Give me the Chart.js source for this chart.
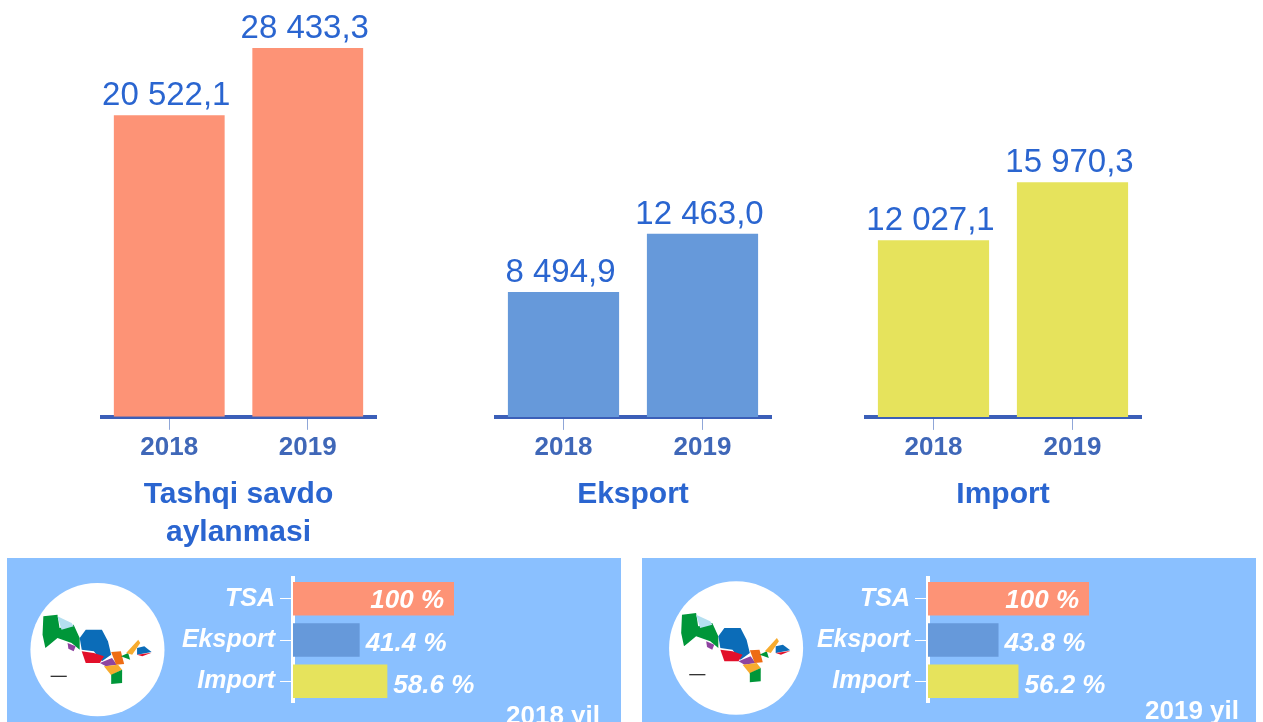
<!DOCTYPE html>
<html>
<head>
<meta charset="utf-8">
<script src="https://cdn.jsdelivr.net/npm/chart.js@4"></script>
<style>
  html, body { margin: 0; padding: 0; background: #fff; width: 1263px; height: 722px; overflow: hidden; }
  canvas { position: absolute; display: block; }
  .panel { position: absolute; top: 558px; width: 614px; height: 164px; background: #8ac0ff; overflow: hidden; }
  .panel canvas { left: 0; top: 0; }
  .panel svg { position: absolute; left: 0; top: 0; width: 630px; height: 172px; }
  .year { position: absolute; color: #fff; font: bold 26px "Liberation Sans", Arial, sans-serif; white-space: nowrap; }
</style>
</head>
<body>
<canvas id="tsa" width="277" height="552" style="left:100px;top:0"></canvas>
<canvas id="eks" width="278" height="514" style="left:494px;top:0"></canvas>
<canvas id="imp" width="278" height="514" style="left:864px;top:0"></canvas>

<div class="panel" style="left:7px">
  <svg viewBox="0 0 1560 516" preserveAspectRatio="none">
    <defs>
      <g id="map">
        <ellipse cx="224" cy="275" rx="166" ry="200" fill="#fff"/>
        <polygon fill="#009639" points="90,175 125,170 130,210 165,200 180,240 180,275 160,255 125,240 105,260 95,270 88,230"/>
        <polygon fill="#b5dff0" points="125,175 160,195 165,205 135,215"/>
        <polygon fill="#0b6cb8" points="180,240 195,215 235,215 250,250 258,290 235,310 215,280 185,275"/>
        <polygon fill="#8e44a0" points="150,255 170,265 165,280 152,272"/>
        <polygon fill="#e2102a" points="185,280 215,285 240,295 230,315 195,315"/>
        <polygon fill="#8e44a0" points="230,315 260,300 272,320 245,325"/>
        <polygon fill="#ee6c14" points="258,282 282,280 290,318 270,320"/>
        <polygon fill="#009639" points="282,295 300,285 305,305"/>
        <polygon fill="#f7ab2e" points="295,285 325,245 330,255 310,290"/>
        <polygon fill="#0b6cb8" points="322,270 340,265 358,282 322,290"/>
        <polygon fill="#e2102a" points="322,290 358,284 335,295"/>
        <polygon fill="#f7ab2e" points="240,325 275,320 285,335 258,352"/>
        <polygon fill="#009639" points="258,350 285,335 285,375 258,378"/>
        <rect x="108" y="353" width="40" height="4" fill="#333"/>
      </g>
    </defs>
    <use href="#map"/>
  </svg>
  <canvas id="share18" width="614" height="164"></canvas>
  <span class="year" style="left:499px;top:142px">2018 yil</span>
</div>

<div class="panel" style="left:642px">
  <svg viewBox="0 0 1560 516" preserveAspectRatio="none">
    <use href="#map" x="9" y="-5"/>
  </svg>
  <canvas id="share19" width="614" height="164"></canvas>
  <span class="year" style="left:503px;top:137px">2019 yil</span>
</div>

<script>
const years = ['2018', '2019'];
const tradeTurnover = [20522.1, 28433.3];
const exports_ = [8494.9, 12463.0];
const imports_ = [12027.1, 15970.3];

const shareLabels = ['TSA', 'Eksport', 'Import'];
const share2018 = [100, 41.4, 58.6];
const share2019 = [100, 43.8, 56.2];

const CORAL = '#fd9376';
const BLUE = '#6699da';
const YELLOW = '#e6e35c';
const TEXT_BLUE = '#2a65d0';
const FONT = '"Liberation Sans", Arial, sans-serif';

// the reference has one scale for all three groups, the tallest bar just runs off the top of it
const SCALE_MAX = 25100;

function formatValue(v) {
  const parts = v.toFixed(1).split('.');
  return parts[0].replace(/\B(?=(\d{3})+$)/g, ' ') + ',' + parts[1];
}

const valueLabels = {
  id: 'valueLabels',
  afterDatasetsDraw(chart) {
    const ctx = chart.ctx;
    const values = chart.data.datasets[0].data;
    ctx.save();
    ctx.font = '33px ' + FONT;
    ctx.fillStyle = TEXT_BLUE;
    ctx.textAlign = 'center';
    ctx.textBaseline = 'alphabetic';
    chart.getDatasetMeta(0).data.forEach((bar, i) => {
      const top = Math.max(bar.y, chart.chartArea.top);
      ctx.fillText(formatValue(values[i]), bar.x - 3, top - 10);
    });
    ctx.restore();
  }
};

const shareValueLabels = {
  id: 'shareValueLabels',
  afterDatasetsDraw(chart) {
    const ctx = chart.ctx;
    const values = chart.data.datasets[0].data;
    ctx.save();
    ctx.font = 'italic bold 26px ' + FONT;
    ctx.fillStyle = '#fff';
    ctx.textBaseline = 'middle';
    chart.getDatasetMeta(0).data.forEach((bar, i) => {
      const text = values[i] + ' %';
      if (values[i] >= 100) {
        ctx.textAlign = 'right';
        ctx.fillText(text, bar.x - 10, bar.y + 2);
      } else {
        ctx.textAlign = 'left';
        ctx.fillText(text, bar.x + 6, bar.y + 4);
      }
    });
    ctx.restore();
  }
};

function drawBars(id, values, color, title) {
  return new Chart(document.getElementById(id), {
    type: 'bar',
    data: {
      labels: years,
      datasets: [{ data: values, backgroundColor: color, barPercentage: 0.8, categoryPercentage: 1 }]
    },
    plugins: [valueLabels],
    options: {
      responsive: false,
      animation: false,
      layout: { padding: { top: 48 } },
      plugins: {
        legend: { display: false },
        title: {
          display: true,
          text: title,
          position: 'bottom',
          color: TEXT_BLUE,
          padding: 0,
          font: { family: FONT, size: 30, weight: 'bold', lineHeight: 1.27 }
        }
      },
      scales: {
        x: {
          afterFit(scale) { scale.height = 59; },
          border: { display: true, color: '#3b5fb8', width: 4 },
          grid: { offset: false, drawOnChartArea: false, color: '#8fa6d8', lineWidth: 1, tickLength: 13 },
          ticks: { color: '#3f67b8', padding: 2, font: { family: FONT, size: 26, weight: 'bold' } }
        },
        y: { display: false, min: 0, max: SCALE_MAX }
      }
    }
  });
}

function drawShares(id, values) {
  return new Chart(document.getElementById(id), {
    type: 'bar',
    data: {
      labels: shareLabels,
      datasets: [{
        data: values,
        backgroundColor: [CORAL, BLUE, YELLOW],
        barPercentage: 0.81,
        categoryPercentage: 1
      }]
    },
    plugins: [shareValueLabels],
    options: {
      indexAxis: 'y',
      responsive: false,
      animation: false,
      layout: { padding: { top: 4, bottom: 0, right: 167 } },
      plugins: { legend: { display: false } },
      scales: {
        x: { display: false, min: 0, max: 100 },
        y: {
          afterFit(scale) { scale.width = 286; },
          border: { display: true, color: '#fff', width: 4 },
          grid: { drawOnChartArea: false, offset: false, color: '#fff', lineWidth: 1, tickLength: 13 },
          ticks: { color: '#fff', padding: 5, font: { family: FONT, size: 25, style: 'italic', weight: 'bold' } }
        }
      }
    }
  });
}

drawBars('tsa', tradeTurnover, CORAL, ['Tashqi savdo', 'aylanmasi']);
drawBars('eks', exports_, BLUE, 'Eksport');
drawBars('imp', imports_, YELLOW, 'Import');
drawShares('share18', share2018);
drawShares('share19', share2019);
</script>
</body>
</html>
